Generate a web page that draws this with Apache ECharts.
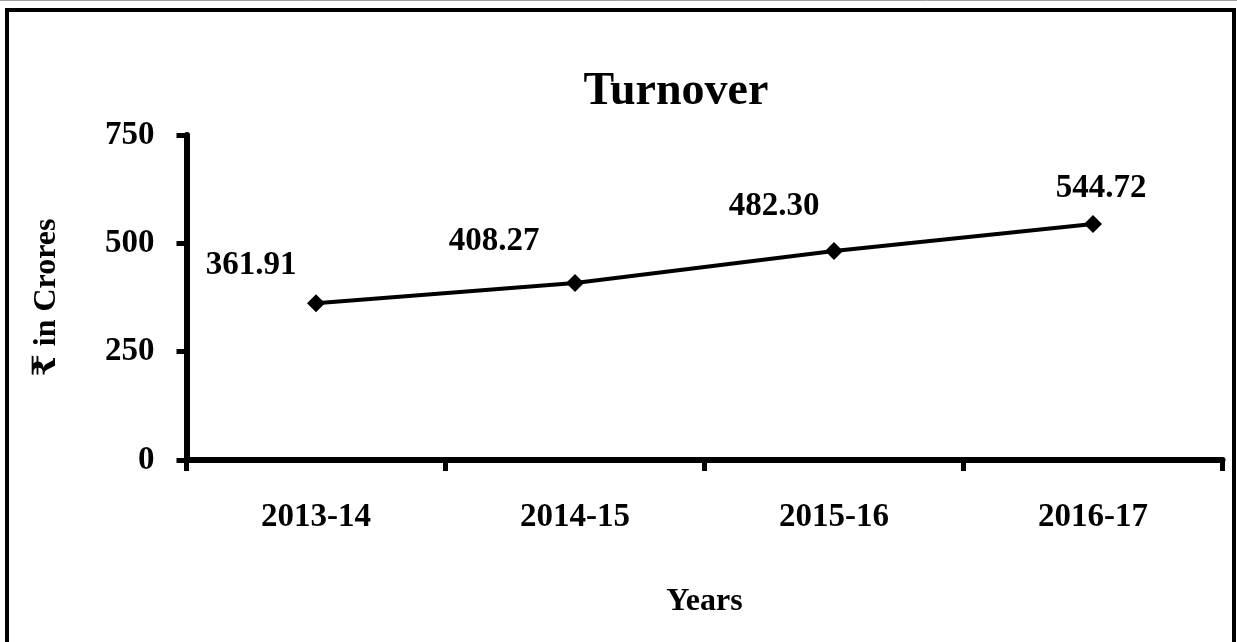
<!DOCTYPE html>
<html>
<head>
<meta charset="utf-8">
<script src="https://cdn.jsdelivr.net/npm/echarts@6/dist/echarts.min.js"></script>
<style>
  html, body { margin: 0; padding: 0; background: #fff; }
  #chart { width: 1237px; height: 642px; }
</style>
</head>
<body>
<div id="chart"></div>
<script>
// Turnover by financial year, in crores of rupees
const years = ['2013-14', '2014-15', '2015-16', '2016-17'];
const turnover = [361.91, 408.27, 482.30, 544.72];
const valueLabels = ['361.91', '408.27', '482.30', '544.72'];
const yTicks = [0, 250, 500, 750];

const SERIF = '"Liberation Serif", "Times New Roman", "DejaVu Serif", serif';

// where each value label sits relative to its point
const labelNudge = [[-65, -38], [-81, -42], [-60, -45], [8, -35]];

const chart = echarts.init(document.getElementById('chart'), null, { renderer: 'canvas' });

chart.setOption({
  backgroundColor: '#ffffff',
  animation: false,
  title: {
    text: 'Turnover',
    left: 671,
    top: 64,
    textAlign: 'center',
    textStyle: { fontFamily: SERIF, fontWeight: 'bold', fontSize: 46, color: '#000' }
  },
  graphic: [
    { type: 'line', shape: { x1: 0, y1: 0.5, x2: 1237, y2: 0.5 }, style: { stroke: '#a0a0a0', lineWidth: 1 } },
    { type: 'rect', shape: { x: 7, y: 10, width: 1227, height: 660 }, style: { fill: 'none', stroke: '#000', lineWidth: 4 } }
  ],
  grid: { left: 186.5, right: 14.5, top: 135, bottom: 182 },
  xAxis: {
    type: 'category',
    data: years,
    boundaryGap: true,
    name: 'Years',
    nameLocation: 'middle',
    nameGap: 126,
    nameTextStyle: { fontFamily: SERIF, fontWeight: 'bold', fontSize: 32, color: '#000' },
    axisLine: { show: true, lineStyle: { color: '#000', width: 6 } },
    axisTick: { show: true, alignWithLabel: false, length: 11, lineStyle: { color: '#000', width: 5 } },
    axisLabel: { margin: 41, fontFamily: SERIF, fontWeight: 'bold', fontSize: 33, color: '#000' },
    splitLine: { show: false }
  },
  yAxis: {
    type: 'value',
    min: yTicks[0],
    max: yTicks[yTicks.length - 1],
    interval: yTicks[1] - yTicks[0],
    name: '₹ in Crores',
    nameLocation: 'middle',
    nameGap: 124,
    nameRotate: 90,
    nameTextStyle: { fontFamily: SERIF, fontWeight: 'bold', fontSize: 32, color: '#000' },
    axisLine: { show: true, lineStyle: { color: '#000', width: 6 } },
    axisTick: { show: true, length: 10, lineStyle: { color: '#000', width: 5 } },
    axisLabel: { margin: 32, fontFamily: SERIF, fontWeight: 'bold', fontSize: 33, color: '#000', padding: [4, 0, 0, 0] },
    splitLine: { show: false }
  },
  series: [{
    type: 'line',
    data: turnover.map((v, i) => ({
      value: v,
      label: { offset: labelNudge[i] }
    })),
    symbol: 'diamond',
    symbolSize: 18,
    lineStyle: { color: '#000', width: 4 },
    itemStyle: { color: '#000' },
    label: {
      show: true,
      position: 'inside',
      formatter: p => valueLabels[p.dataIndex],
      fontFamily: SERIF,
      fontWeight: 'bold',
      fontSize: 33,
      color: '#000'
    },
    z: 5
  }]
});
</script>
</body>
</html>
